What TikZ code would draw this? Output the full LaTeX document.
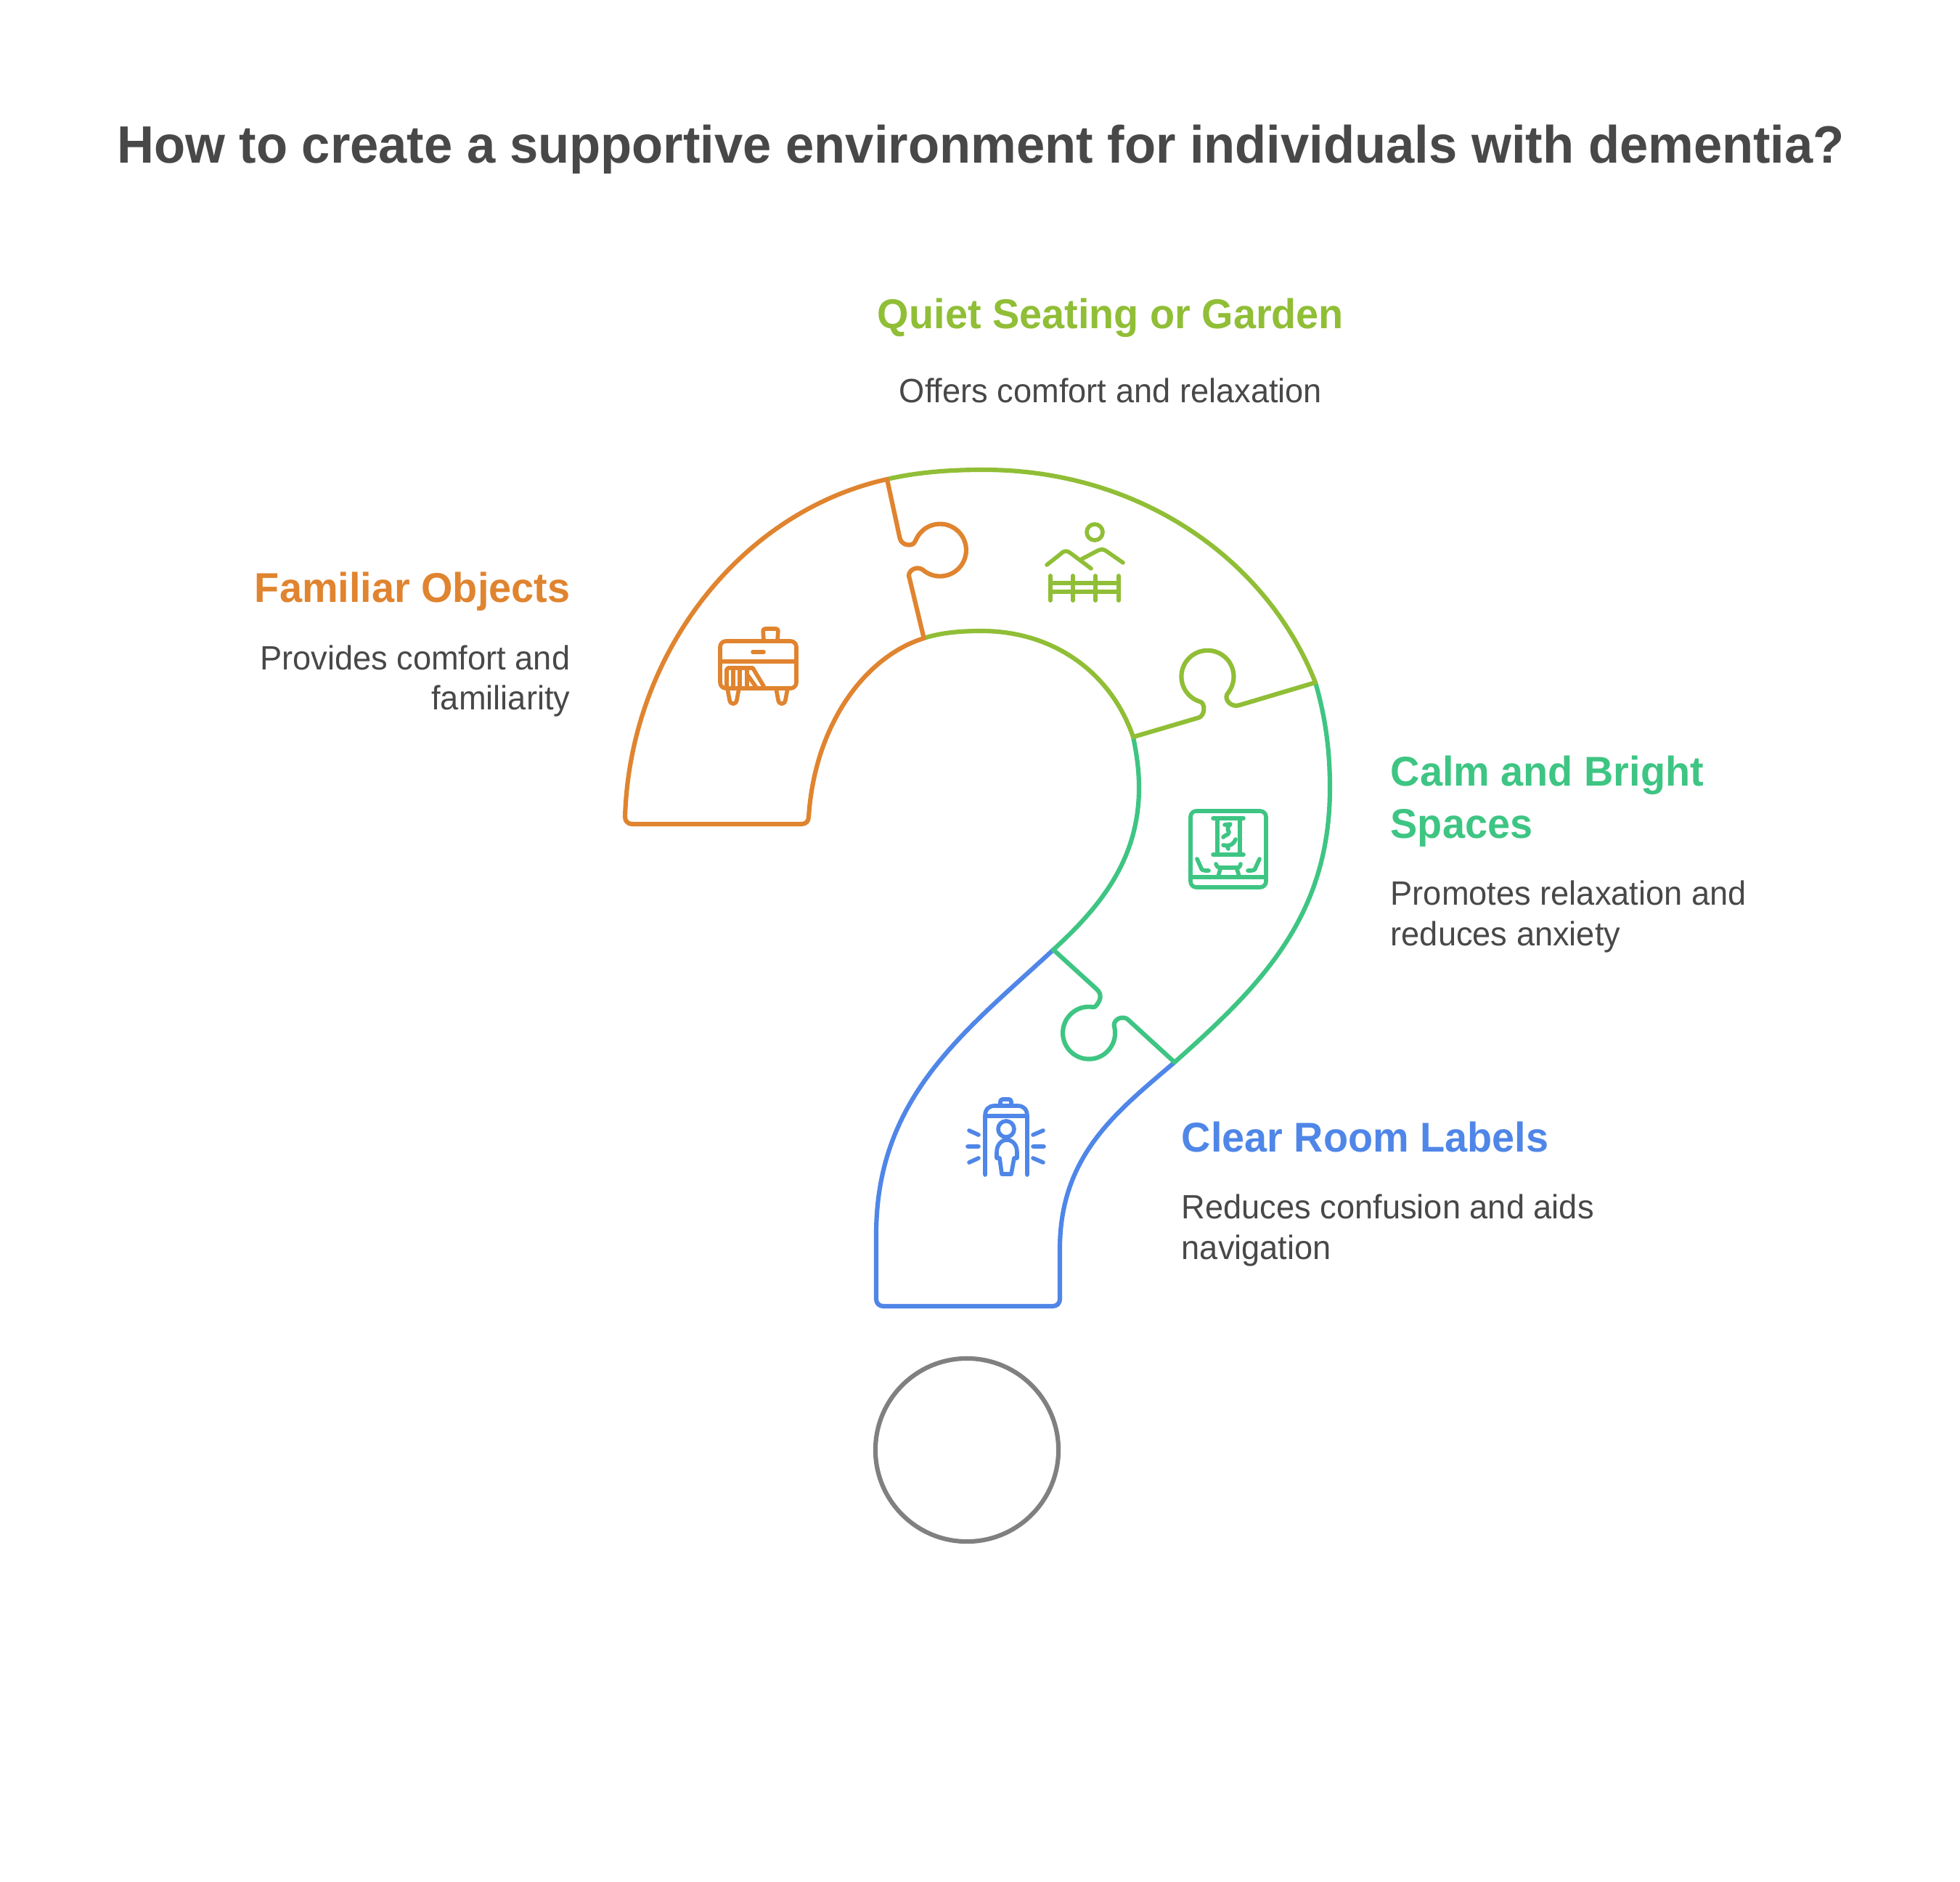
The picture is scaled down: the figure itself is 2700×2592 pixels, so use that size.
\documentclass[tikz,border=0pt]{standalone}
\usepackage{fontspec}
\setmainfont{Liberation Sans}[FakeStretch=0.974]
\definecolor{orangeC}{HTML}{E0842F}
\definecolor{greenC}{HTML}{90BE36}
\definecolor{tealC}{HTML}{3EC583}
\definecolor{blueC}{HTML}{4F86E8}
\definecolor{grayC}{HTML}{808080}
\definecolor{inkC}{HTML}{484848}
\tikzset{
  piece/.style={line width=1.75pt,line join=round,line cap=round},
  icon/.style={line width=1.6pt,line join=round,line cap=round},
  titletext/.style={inner sep=0pt,text=inkC,font=\fontsize{20.6}{24}\selectfont\bfseries},
  headtext/.style={inner sep=0pt,font=\fontsize{16.3}{20.5}\selectfont\bfseries},
  desctext/.style={inner sep=0pt,text=inkC,font=\fontsize{13.2}{15.65}\selectfont},
}
\begin{document}
\begin{tikzpicture}[x=0.01cm,y=-0.01cm]
\useasboundingbox (0,0) rectangle (2700,2592);
\fill[white] (0,0) rectangle (2700,2592);
% circle
\node[circle,draw=grayC,line width=1.75pt,minimum size=2.52cm,inner sep=0pt] (dot) at (1332,1997) {};
% blue
\draw[piece,blueC] (1451,1308) .. controls (1330,1420) and (1207,1510) .. (1207,1700) -- (1207,1789)
  .. controls (1207,1795) and (1211,1799) .. (1217,1799) -- (1450,1799)
  .. controls (1456,1799) and (1460,1795) .. (1460,1789) -- (1460,1720)
  .. controls (1460,1590) and (1540,1530) .. (1618,1463);
% teal
\draw[piece,tealC] (1451,1308) -- (1510,1361.7) .. controls (1520,1370) and (1515,1380) .. (1508.3,1386.7) -- (1505.7,1387)
  arc[start angle=81,end angle=370.3,radius=0.36cm]
  .. controls (1531,1405) and (1545,1398) .. (1553,1403.5) -- (1618,1463)
  .. controls (1740,1355) and (1832,1260) .. (1832,1085)
  .. controls (1832,1030) and (1825,985) .. (1812,940);
\draw[piece,tealC] (1561,1015) .. controls (1566,1040) and (1569,1060) .. (1569,1085)
  .. controls (1569,1180) and (1520,1245) .. (1451,1308);
% green
\draw[piece,greenC] (1222,660) .. controls (1265,650) and (1310,647) .. (1355,647)
  .. controls (1570,647) and (1745,770) .. (1812,940)
  -- (1708,971) .. controls (1697,975) and (1687,965) .. (1690,957) -- (1693.3,952)
  arc[start angle=-34,end angle=252.3,radius=0.36cm]
  .. controls (1661,968) and (1660,985) .. (1651.7,988.3) -- (1561,1015)
  .. controls (1530,925) and (1450,869) .. (1352,869)
  .. controls (1325,869) and (1297,871) .. (1272.7,879);
% orange
\draw[piece,orangeC] (1222,660) -- (1239.3,740) .. controls (1241,752) and (1257,753) .. (1260,746.7) -- (1262,743)
  arc[start angle=156,end angle=-131,radius=0.36cm]
  .. controls (1262,778) and (1248,787) .. (1253,797) -- (1272.7,879)
  .. controls (1190,905) and (1122,1000) .. (1114,1125)
  .. controls (1114,1131) and (1110,1135) .. (1104,1135) -- (871,1135)
  .. controls (865,1135) and (861,1131) .. (861,1125)
  .. controls (868,900) and (1020,705) .. (1222,660);
% orange icon
\begin{scope}[icon,orangeC]
\draw[rounded corners=0.08cm] (992,883) rectangle (1097,948);
\draw (992,911) -- (1097,911);
\draw (1037,898) -- (1052,898);
\draw[rounded corners=0.03cm] (1052,883) -- (1051,866) -- (1072,866) -- (1071,883);
\draw (1002,948) -- (1005,964) .. controls (1006,971) and (1014,971) .. (1015,964) -- (1018,948);
\draw (1069,948) -- (1072,964) .. controls (1073,971) and (1081,971) .. (1082,964) -- (1085,948);
\draw (1001,948) -- (1001,922) -- (1003,920) -- (1032,920) -- (1037,920) -- (1052,945);
\draw (1010,921) -- (1010,947) (1019,921) -- (1019,947) (1029,921) -- (1029,947);
\draw (1030,930) -- (1042,947);
\end{scope}
% green icon
\begin{scope}[icon,greenC]
\draw (1508,733) circle[radius=0.11cm];
\draw (1442,778) -- (1461,763) .. controls (1466,758) and (1470,758) .. (1475,762) -- (1503,783);
\draw (1490,770) -- (1511,759) .. controls (1516,756) and (1520,756) .. (1524,759) -- (1547,775);
\draw (1447,793) -- (1447,827) (1478,793) -- (1478,827) (1509,793) -- (1509,827) (1541,793) -- (1541,827);
\draw (1447,803) -- (1541,803) (1447,815) -- (1541,815);
\end{scope}
% teal icon
\begin{scope}[icon,tealC]
\draw[rounded corners=0.08cm] (1640,1117) rectangle (1744,1222);
\draw (1640,1208) -- (1744,1208);
\draw (1671,1127) -- (1713,1127) (1671,1177) -- (1713,1177);
\draw (1677,1127) -- (1677,1177) (1708,1127) -- (1708,1177);
\draw (1687,1136) -- (1695,1135) .. controls (1691,1138) and (1690,1142) .. (1693,1146) .. controls (1693,1150) and (1687,1150) .. (1685,1153);
\draw (1685,1164) .. controls (1695,1166) and (1700,1162) .. (1702,1156) (1690,1165) -- (1692,1169);
\draw (1675,1190) .. controls (1677,1196) and (1680,1195) .. (1685,1195) -- (1702,1195) .. controls (1706,1195) and (1708,1195) .. (1709,1190);
\draw (1681,1197) -- (1678,1207) (1704,1197) -- (1707,1207);
\draw (1649,1183) -- (1654,1194) .. controls (1655,1198) and (1657,1199) .. (1660,1199) -- (1665,1199);
\draw (1735,1183) -- (1730,1194) .. controls (1729,1198) and (1727,1199) .. (1724,1199) -- (1719,1199);
\end{scope}
% blue icon
\begin{scope}[icon,blueC]
\draw (1357,1618) -- (1357,1537) .. controls (1357,1528) and (1362,1523) .. (1370,1523) -- (1402,1523) .. controls (1410,1523) and (1415,1528) .. (1415,1537) -- (1415,1618);
\draw (1357,1537) -- (1415,1537);
\draw[rounded corners=0.03cm] (1378,1522) -- (1378,1514) -- (1393,1514) -- (1393,1522);
\draw (1386,1555) circle[radius=0.11cm];
\draw (1380,1617) -- (1377,1595) -- (1373,1595) -- (1373,1587) .. controls (1373,1577) and (1379,1570) .. (1387,1570) .. controls (1395,1570) and (1401,1577) .. (1401,1587) -- (1401,1595) -- (1397,1595) -- (1393,1617) -- cycle;
\draw (1335,1557) -- (1348,1563) (1333,1579) -- (1348,1579) (1335,1601) -- (1348,1595);
\draw (1437,1557) -- (1423,1563) (1438,1579) -- (1423,1579) (1437,1601) -- (1423,1595);
\end{scope}
% texts
\node[titletext,anchor=base] (title) at (1351,225) {How to create a supportive environment for individuals with dementia?};
\node[headtext,text=greenC,anchor=base] (h2) at (1530,453) {Quiet Seating or Garden};
\node[desctext,anchor=base] (d2) at (1530,555) {Offers comfort and relaxation};
\node[headtext,text=orangeC,anchor=base east] (h1) at (786,830) {Familiar Objects};
\node[desctext,align=right,anchor=base east] (d1) at (786,978) {Provides comfort and\\familiarity};
\node[headtext,text=tealC,align=left,anchor=base west] (h3) at (1915,1155) {Calm and Bright\\Spaces};
\node[desctext,align=left,anchor=base west] (d3) at (1915,1302) {Promotes relaxation and\\reduces anxiety};
\node[headtext,text=blueC,anchor=base west] (h4) at (1627,1586) {Clear Room Labels};
\node[desctext,align=left,anchor=base west] (d4) at (1627,1734) {Reduces confusion and aids\\navigation};
\end{tikzpicture}
\end{document}
